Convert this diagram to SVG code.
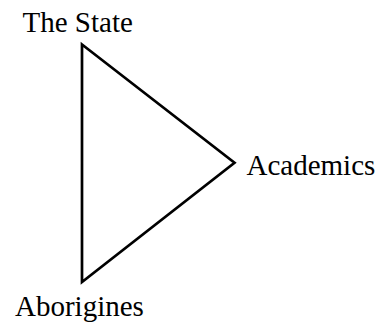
<svg xmlns="http://www.w3.org/2000/svg" width="381" height="322" viewBox="0 0 381 322">
<style>
text{font-family:"Liberation Serif","Times New Roman",serif;font-size:29px;fill:#000}
.edge{stroke:#000;stroke-width:2.7;fill:none;stroke-linejoin:miter;stroke-miterlimit:10}
</style>
<rect width="381" height="322" fill="#fff"/>
<g id="connectors">
<polygon class="edge" points="82,44.5 234.5,162.7 82,282"/>
</g>
<g id="state"><text x="22.5" y="31.5">The State</text></g>
<g id="academics"><text x="246.5" y="175">Academics</text></g>
<g id="aborigines"><text x="15" y="316">Aborigines</text></g>
</svg>
